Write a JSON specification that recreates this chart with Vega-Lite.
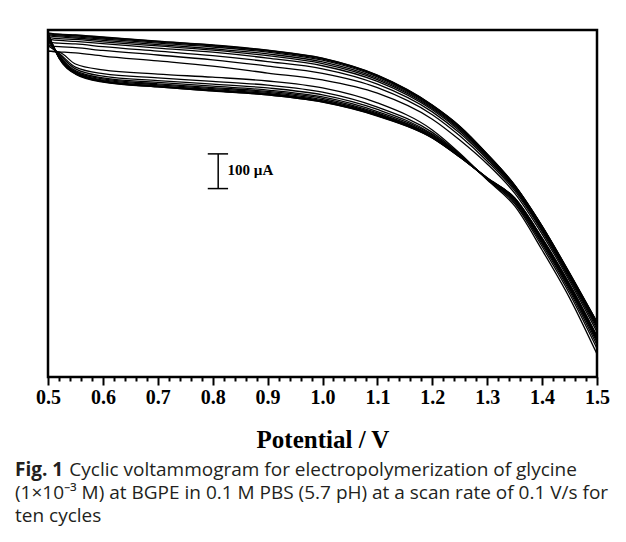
{
  "$schema": "https://vega.github.io/schema/vega-lite/v6.json",
  "width": 549,
  "height": 347,
  "autosize": {"type": "none"},
  "padding": {"left": 48, "top": 30, "right": 29, "bottom": 165},
  "background": "white",
  "config": {"view": {"stroke": "black", "strokeWidth": 2.5}},
  "title": {
    "text": "Fig. 1",
    "subtitle": [
      "\u200b\u00a0\u00a0\u00a0\u00a0\u00a0\u00a0\u00a0\u00a0\u00a0\u00a0\u00a0Cyclic voltammogram for electropolymerization of glycine",
      "(1×10⁻³ M) at BGPE in 0.1 M PBS (5.7 pH) at a scan rate of 0.1 V/s for",
      "ten cycles"
    ],
    "orient": "bottom",
    "anchor": "start",
    "frame": "group",
    "dx": -33,
    "offset": 9,
    "font": "Open Sans",
    "fontSize": 19,
    "fontWeight": "bold",
    "color": "#231f20",
    "subtitleFont": "Open Sans",
    "subtitleFontSize": 19,
    "subtitleFontWeight": "normal",
    "subtitleColor": "#231f20",
    "subtitleLineHeight": 23,
    "subtitlePadding": -19
  },
  "resolve": {"axis": {"x": "independent"}},
  "layer": [
    {
      "data": {
        "values": [
          {"b": "u", "v": 0.50, "c0": -61, "c1": -45, "c2": -35, "c3": -27, "c4": -22, "c5": -17, "c6": -14, "c7": -11, "c8": -10, "c9": -9},
          {"b": "u", "v": 0.52, "c0": -63, "c1": -48, "c2": -38, "c3": -30, "c4": -25, "c5": -20, "c6": -17, "c7": -14, "c8": -13, "c9": -12},
          {"b": "u", "v": 0.55, "c0": -66, "c1": -51, "c2": -40, "c3": -33, "c4": -27, "c5": -23, "c6": -20, "c7": -17, "c8": -15, "c9": -14},
          {"b": "u", "v": 0.60, "c0": -75, "c1": -59, "c2": -48, "c3": -39, "c4": -34, "c5": -30, "c6": -26, "c7": -23, "c8": -21, "c9": -20},
          {"b": "u", "v": 0.70, "c0": -89, "c1": -72, "c2": -61, "c3": -52, "c4": -46, "c5": -42, "c6": -38, "c7": -35, "c8": -33, "c9": -32},
          {"b": "u", "v": 0.80, "c0": -104, "c1": -86, "c2": -74, "c3": -64, "c4": -58, "c5": -54, "c6": -49, "c7": -46, "c8": -44, "c9": -43},
          {"b": "u", "v": 0.90, "c0": -124, "c1": -104, "c2": -91, "c3": -81, "c4": -74, "c5": -69, "c6": -64, "c7": -61, "c8": -59, "c9": -58},
          {"b": "u", "v": 1.00, "c0": -144, "c1": -125, "c2": -112, "c3": -103, "c4": -97, "c5": -92, "c6": -87, "c7": -84, "c8": -82, "c9": -81},
          {"b": "u", "v": 1.10, "c0": -182, "c1": -166, "c2": -156, "c3": -148, "c4": -143, "c5": -139, "c6": -135, "c7": -132, "c8": -131, "c9": -130},
          {"b": "u", "v": 1.20, "c0": -257, "c1": -244, "c2": -236, "c3": -230, "c4": -226, "c5": -223, "c6": -220, "c7": -218, "c8": -217, "c9": -216},
          {"b": "u", "v": 1.25, "c0": -317, "c1": -305, "c2": -297, "c3": -291, "c4": -287, "c5": -284, "c6": -281, "c7": -279, "c8": -278, "c9": -277},
          {"b": "u", "v": 1.30, "c0": -386, "c1": -378, "c2": -372, "c3": -368, "c4": -365, "c5": -362, "c6": -360, "c7": -359, "c8": -358, "c9": -357},
          {"b": "u", "v": 1.35, "c0": -470, "c1": -463, "c2": -458, "c3": -455, "c4": -453, "c5": -451, "c6": -449, "c7": -448, "c8": -447, "c9": -447},
          {"b": "u", "v": 1.40, "c0": -588, "c1": -581, "c2": -577, "c3": -573, "c4": -571, "c5": -569, "c6": -567, "c7": -566, "c8": -565, "c9": -565},
          {"b": "u", "v": 1.45, "c0": -723, "c1": -717, "c2": -712, "c3": -708, "c4": -706, "c5": -704, "c6": -703, "c7": -702, "c8": -701, "c9": -700},
          {"b": "u", "v": 1.50, "c0": -870, "c1": -862, "c2": -856, "c3": -852, "c4": -849, "c5": -846, "c6": -844, "c7": -843, "c8": -842, "c9": -842},
          {"b": "l", "v": 0.50, "c0": -61, "c1": -45, "c2": -35, "c3": -27, "c4": -22, "c5": -17, "c6": -14, "c7": -11, "c8": -10, "c9": -9},
          {"b": "l", "v": 0.52, "c0": -64, "c1": -67, "c2": -70, "c3": -73, "c4": -75, "c5": -77, "c6": -78, "c7": -80, "c8": -80, "c9": -81},
          {"b": "l", "v": 0.55, "c0": -98, "c1": -107, "c2": -112, "c3": -117, "c4": -120, "c5": -122, "c6": -124, "c7": -125, "c8": -126, "c9": -127},
          {"b": "l", "v": 0.60, "c0": -115, "c1": -126, "c2": -133, "c3": -138, "c4": -141, "c5": -144, "c6": -146, "c7": -148, "c8": -149, "c9": -150},
          {"b": "l", "v": 0.70, "c0": -127, "c1": -138, "c2": -146, "c3": -151, "c4": -155, "c5": -158, "c6": -161, "c7": -162, "c8": -164, "c9": -164},
          {"b": "l", "v": 0.80, "c0": -136, "c1": -148, "c2": -156, "c3": -162, "c4": -166, "c5": -169, "c6": -172, "c7": -174, "c8": -175, "c9": -176},
          {"b": "l", "v": 0.90, "c0": -147, "c1": -159, "c2": -167, "c3": -173, "c4": -177, "c5": -180, "c6": -183, "c7": -185, "c8": -187, "c9": -187},
          {"b": "l", "v": 1.00, "c0": -167, "c1": -179, "c2": -187, "c3": -193, "c4": -197, "c5": -201, "c6": -204, "c7": -206, "c8": -207, "c9": -208},
          {"b": "l", "v": 1.10, "c0": -210, "c1": -222, "c2": -229, "c3": -235, "c4": -239, "c5": -242, "c6": -244, "c7": -246, "c8": -247, "c9": -248},
          {"b": "l", "v": 1.20, "c0": -288, "c1": -295, "c2": -300, "c3": -303, "c4": -306, "c5": -307, "c6": -309, "c7": -310, "c8": -311, "c9": -311},
          {"b": "l", "v": 1.25, "c0": -355, "c1": -358, "c2": -360, "c3": -362, "c4": -363, "c5": -364, "c6": -365, "c7": -365, "c8": -366, "c9": -366},
          {"b": "l", "v": 1.30, "c0": -432, "c1": -431, "c2": -429, "c3": -429, "c4": -428, "c5": -428, "c6": -427, "c7": -427, "c8": -427, "c9": -426},
          {"b": "l", "v": 1.35, "c0": -507, "c1": -500, "c2": -496, "c3": -492, "c4": -490, "c5": -488, "c6": -486, "c7": -485, "c8": -484, "c9": -484},
          {"b": "l", "v": 1.40, "c0": -634, "c1": -624, "c2": -617, "c3": -612, "c4": -608, "c5": -605, "c6": -603, "c7": -601, "c8": -600, "c9": -600},
          {"b": "l", "v": 1.45, "c0": -772, "c1": -760, "c2": -752, "c3": -746, "c4": -742, "c5": -739, "c6": -736, "c7": -734, "c8": -733, "c9": -732},
          {"b": "l", "v": 1.50, "c0": -934, "c1": -918, "c2": -908, "c3": -900, "c4": -895, "c5": -891, "c6": -887, "c7": -885, "c8": -883, "c9": -882}
        ]
      },
      "transform": [
        {"fold": ["c0", "c1", "c2", "c3", "c4", "c5", "c6", "c7", "c8", "c9"], "as": ["cycle", "i"]}
      ],
      "mark": {"type": "line", "interpolate": "monotone", "color": "black", "strokeWidth": 1.3},
      "encoding": {
        "x": {
          "field": "v",
          "type": "quantitative",
          "scale": {"domain": [0.5, 1.5], "nice": false, "zero": false},
          "axis": {
            "orient": "bottom",
            "values": [0.5, 0.6, 0.7, 0.8, 0.9, 1.0, 1.1, 1.2, 1.3, 1.4, 1.5],
            "format": ".1f",
            "tickSize": 8,
            "tickWidth": 2,
            "tickColor": "black",
            "domain": false,
            "grid": false,
            "labelFont": "Liberation Serif",
            "labelFontWeight": "bold",
            "labelFontSize": 20,
            "labelColor": "black",
            "labelPadding": 2,
            "labelOverlap": false,
            "labelFlush": false,
            "labelBound": false,
            "title": "Potential / V",
            "titleFont": "Liberation Serif",
            "titleFontSize": 25,
            "titleFontWeight": "bold",
            "titleColor": "black",
            "titlePadding": 20
          }
        },
        "y": {
          "field": "i",
          "type": "quantitative",
          "scale": {"domain": [-1000, 0], "nice": false, "zero": false},
          "axis": null
        },
        "detail": [{"field": "b"}, {"field": "cycle"}]
      }
    },
    {
      "data": {"values": [{"v": 0.81, "v2": 0.81, "i": -357, "i2": -457}, {"v": 0.791, "v2": 0.828, "i": -357, "i2": -357}, {"v": 0.791, "v2": 0.828, "i": -457, "i2": -457}]},
      "mark": {"type": "rule", "color": "black", "strokeWidth": 1.5},
      "encoding": {
        "x": {
          "field": "v",
          "type": "quantitative",
          "axis": {
            "orient": "bottom",
            "values": [0.52, 0.54, 0.56, 0.58, 0.62, 0.64, 0.66, 0.68, 0.72, 0.74, 0.76, 0.78, 0.82, 0.84, 0.86, 0.88, 0.92, 0.94, 0.96, 0.98, 1.02, 1.04, 1.06, 1.08, 1.12, 1.14, 1.16, 1.18, 1.22, 1.24, 1.26, 1.28, 1.32, 1.34, 1.36, 1.38, 1.42, 1.44, 1.46, 1.48],
            "labels": false,
            "title": null,
            "tickSize": 4,
            "tickWidth": 2,
            "tickColor": "black",
            "domain": false,
            "grid": false
          }
        },
        "x2": {"field": "v2"},
        "y": {"field": "i", "type": "quantitative"},
        "y2": {"field": "i2"}
      }
    },
    {
      "data": {"values": [{"v": 0.827, "i": -403, "label": "100 µA"}]},
      "mark": {"type": "text", "align": "left", "baseline": "middle", "font": "Liberation Serif", "fontWeight": "bold", "fontSize": 15, "color": "black"},
      "encoding": {
        "x": {"field": "v", "type": "quantitative", "axis": null},
        "y": {"field": "i", "type": "quantitative"},
        "text": {"field": "label"}
      }
    }
  ]
}
